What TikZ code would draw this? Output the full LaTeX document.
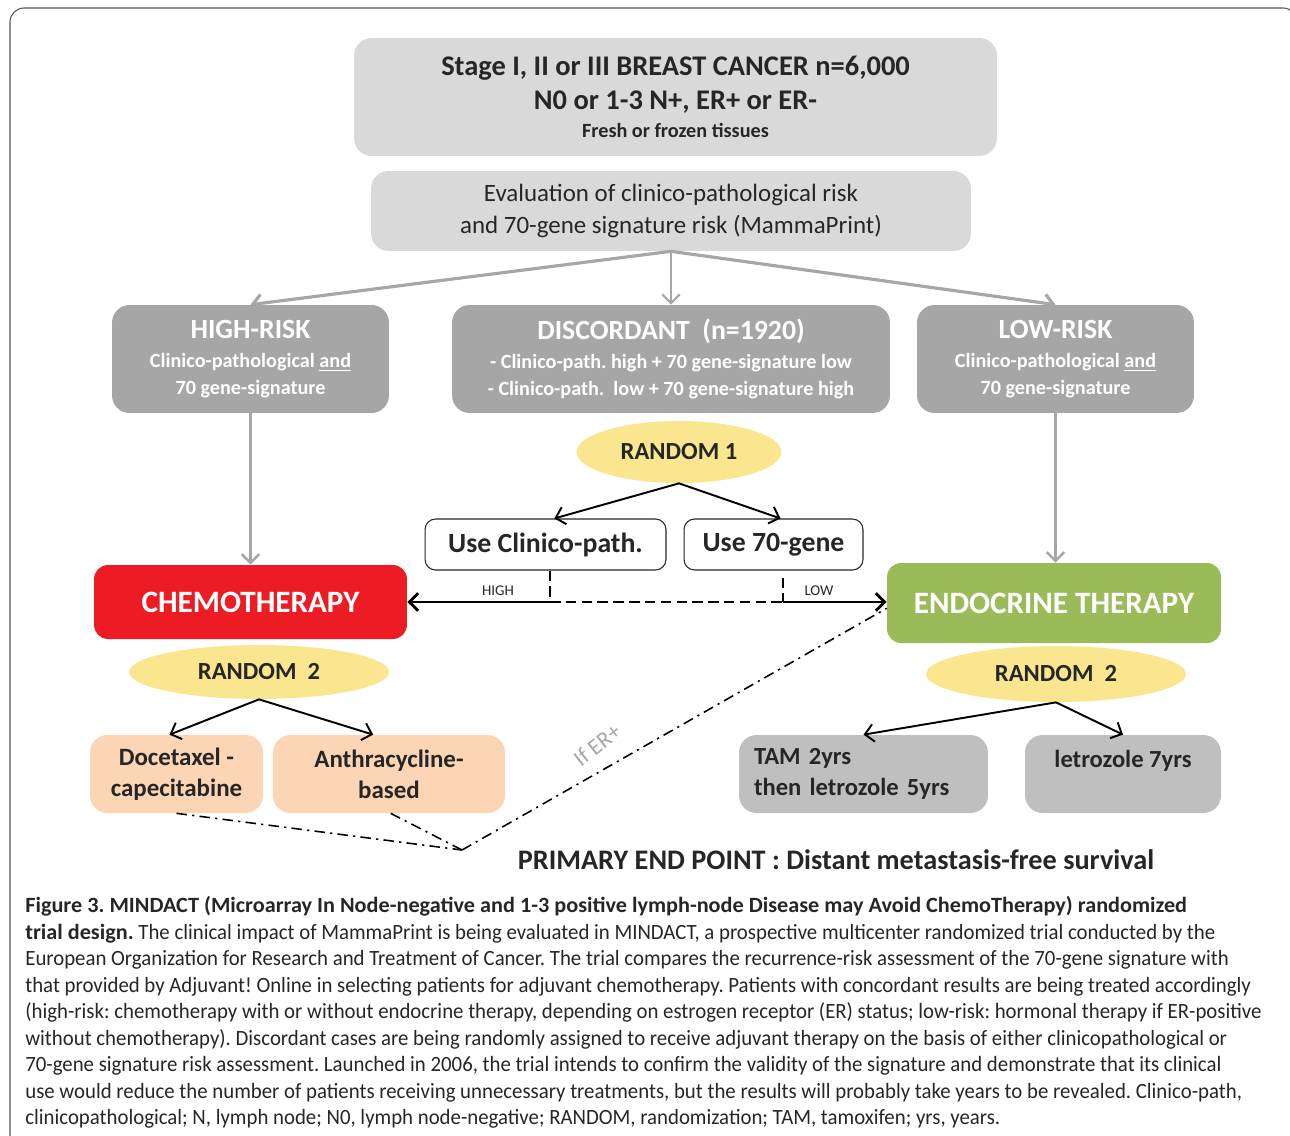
\documentclass[tikz,border=0pt]{standalone}
\usepackage{fontspec}
\setmainfont{Carlito}
\newfontfamily\capfont[FakeStretch=0.955,BoldFeatures={FakeStretch=1.02}]{Carlito}
\usetikzlibrary{arrows.meta,shapes.geometric}
\definecolor{ink}{HTML}{262626}
\definecolor{framegray}{HTML}{555555}
\definecolor{boxlight}{HTML}{D9D9D9}
\definecolor{boxmid}{HTML}{A6A6A6}
\definecolor{boxsoft}{HTML}{BFBFBF}
\definecolor{randfill}{HTML}{FAE68F}
\definecolor{chemored}{HTML}{ED1C24}
\definecolor{endogreen}{HTML}{9BBB59}
\definecolor{peach}{HTML}{FCD5B4}
\frenchspacing
\begin{document}
\begin{tikzpicture}[x=0.02cm,y=-0.02cm,>={Straight Barb[length=5pt,width=10pt]}]
        \useasboundingbox (0,0) rectangle (1290,1135);
        \draw[framegray,line width=0.6pt,rounded corners=8pt] (10,1200) -- (10,8) -- (1297,8) -- (1297,1200);

        \begin{scope}[every node/.style={rounded corners=10pt,align=center,inner sep=0pt}]
          \node[fill=boxlight,text=ink,minimum width=12.86cm,minimum height=2.36cm,font=\fontsize{16.2}{19.3}\selectfont\bfseries] (stage) at (675.5,97)
            {Stage I, II or III BREAST CANCER n=6,000\\
             N0 or 1-3 N+, ER+ or ER-\\[-3pt] {\fontsize{11.5}{17}\selectfont Fresh or frozen tissues}};
          \node[fill=boxlight,text=ink,minimum width=12cm,minimum height=1.6cm,font=\fontsize{14.2}{18.3}\selectfont] (eval) at (671,211)
            {Evaluation of clinico-pathological risk\\ and 70-gene signature risk (MammaPrint)};
          \node[fill=boxmid,text=white,minimum width=5.54cm,minimum height=2.16cm,font=\fontsize{11.5}{15.3}\selectfont\bfseries] (high) at (250.5,359)
            {{\fontsize{15.8}{17}\selectfont HIGH-RISK}\\[1pt] Clinico-pathological \underline{and}\\ 70 gene-signature};
          \node[fill=boxmid,text=white,minimum width=8.76cm,minimum height=2.16cm,font=\fontsize{11.5}{15.3}\selectfont\bfseries] (disc) at (671,359)
            {{\fontsize{15.8}{17}\selectfont DISCORDANT~~(n=1920)}\\[1pt] - Clinico-path. high + 70 gene-signature low\\ - Clinico-path.~~low + 70 gene-signature high};
          \node[fill=boxmid,text=white,minimum width=5.54cm,minimum height=2.16cm,font=\fontsize{11.5}{15.3}\selectfont\bfseries] (low) at (1055.5,359)
            {{\fontsize{15.8}{17}\selectfont LOW-RISK}\\[1pt] Clinico-pathological \underline{and}\\ 70 gene-signature};
          \node[draw=ink,line width=0.6pt,text=ink,rounded corners=6pt,minimum width=4.82cm,minimum height=1.02cm,font=\fontsize{15.8}{17}\selectfont\bfseries] (useclin) at (545.5,544.5) {Use Clinico-path.};
          \node[draw=ink,line width=0.6pt,text=ink,rounded corners=6pt,minimum width=3.58cm,minimum height=1.02cm,font=\fontsize{15.8}{17}\selectfont\bfseries] (usegene) at (773.5,544.5) {Use 70-gene};
          \node[fill=chemored,text=white,rounded corners=8pt,minimum width=6.26cm,minimum height=1.48cm,font=\fontsize{17.7}{19}\selectfont\bfseries] (chemo) at (250.5,602) {CHEMOTHERAPY};
          \node[fill=endogreen,text=white,rounded corners=8pt,minimum width=6.68cm,minimum height=1.6cm,font=\fontsize{17.7}{19}\selectfont\bfseries] (endo) at (1054,603) {ENDOCRINE THERAPY};
          \node[fill=peach,text=ink,minimum width=3.46cm,minimum height=1.56cm,font=\fontsize{14.2}{17.5}\selectfont\bfseries] (docet) at (176.5,774) {Docetaxel -\\ capecitabine};
          \node[fill=peach,text=ink,minimum width=4.64cm,minimum height=1.56cm,font=\fontsize{14.2}{17.5}\selectfont\bfseries] (anthra) at (389,774) {Anthracycline-\\ based};
          \node[fill=boxsoft,text=ink,minimum width=4.98cm,minimum height=1.56cm,text width=4.38cm,align=left,font=\fontsize{14}{17.5}\selectfont\bfseries] (tam) at (863.5,774) {TAM 2yrs\\ then letrozole 5yrs};
          \node[fill=boxsoft,text=ink,minimum width=3.92cm,minimum height=1.56cm,font=\fontsize{14}{17.5}\selectfont\bfseries] (letro) at (1123,774) {letrozole 7yrs\\ ~};
        \end{scope}

        \begin{scope}[every node/.style={ellipse,fill=randfill,text=ink,inner sep=0pt,font=\fontsize{14}{16}\selectfont\bfseries}]
          \node[minimum width=4.1cm,minimum height=1.24cm] (rand1) at (679,452) {RANDOM 1};
          \node[minimum width=5.2cm,minimum height=1.08cm] (randL) at (259,672) {RANDOM~~2};
          \node[minimum width=5.2cm,minimum height=1.12cm] (randR) at (1056,674) {RANDOM~~2};
        \end{scope}

        \begin{scope}[boxmid,->]
          \draw[line width=1.8pt] (eval.south) -- (high.north);
          \draw[line width=1.2pt] (eval.south) -- (disc.north);
          \draw[line width=1.8pt] (eval.south) -- (low.north);
          \draw[line width=1.4pt] (high.south) -- (chemo.north);
          \draw[line width=1.4pt] (low.south) -- (low.south |- endo.north);
        \end{scope}

        \coordinate (hi) at (550,602);
        \coordinate (lo) at (783,602);
        \coordinate (endpt) at (462,850);
        \begin{scope}[black,line width=1.1pt,->]
          \draw (rand1.south) -- ([xshift=5pt]useclin.north);
          \draw (rand1.south) -- ([xshift=4pt]usegene.north);
          \draw (randL.south) -- ([xshift=-4pt]docet.north);
          \draw (randL.south) -- ([xshift=-9pt]anthra.north);
          \draw (randR.south) -- (tam.north);
          \draw (randR.south) -- (letro.north);
        \end{scope}

        \begin{scope}[black,line width=1.6pt]
          \draw[->] (hi) -- (chemo.east |- hi);
          \draw[->] (lo) -- (endo.west |- lo);
          \draw[dashed,dash pattern=on 6pt off 3pt] (hi) -- (lo);
          \draw[dashed,dash pattern=on 6pt off 3pt] (hi |- useclin.south) -- (hi);
          \draw[dashed,dash pattern=on 6pt off 3pt] ([yshift=-4pt]lo |- usegene.south) -- (lo);
        \end{scope}
        \node[text=ink,font=\fontsize{8.5}{10}\selectfont] (highlbl) at (498,591) {HIGH};
        \node[text=ink,font=\fontsize{8.5}{10}\selectfont] (lowlbl) at (819,591) {LOW};

        \begin{scope}[black,line width=0.9pt,dash pattern=on 6pt off 3pt on 1.2pt off 3pt]
          \draw (docet.south) -- (endpt);
          \draw ([xshift=1pt]anthra.south) -- (endpt);
          \draw (endpt) -- ([yshift=-3pt]endo.west);
        \end{scope}
        \node[rotate=38,text=boxmid,font=\fontsize{13}{15}\selectfont] (erlbl) at (597,745) {If ER+};

        \node[text=ink,font=\fontsize{16.1}{18}\selectfont\bfseries] (endpoint) at (836,860) {PRIMARY END POINT : Distant metastasis-free survival};

        \node[anchor=north west,align=left,inner sep=0pt,text=ink,font=\capfont\fontsize{12.4}{15.1}\selectfont] (caption) at (25,896)
          {\textbf{Figure 3. MINDACT (Microarray In Node-negative and 1-3 positive lymph-node Disease may Avoid ChemoTherapy) randomized}\\
           \textbf{trial design.} The clinical impact of MammaPrint is being evaluated in MINDACT, a prospective multicenter randomized trial conducted by the\\
           European Organization for Research and Treatment of Cancer. The trial compares the recurrence-risk assessment of the 70-gene signature with\\
           that provided by Adjuvant! Online in selecting patients for adjuvant chemotherapy. Patients with concordant results are being treated accordingly\\
           (high-risk: chemotherapy with or without endocrine therapy, depending on estrogen receptor (ER) status; low-risk: hormonal therapy if ER-positive\\
           without chemotherapy). Discordant cases are being randomly assigned to receive adjuvant therapy on the basis of either clinicopathological or\\
           70-gene signature risk assessment. Launched in 2006, the trial intends to confirm the validity of the signature and demonstrate that its clinical\\
           use would reduce the number of patients receiving unnecessary treatments, but the results will probably take years to be revealed. Clinico-path,\\
           clinicopathological; N, lymph node; N0, lymph node-negative; RANDOM, randomization; TAM, tamoxifen; yrs, years.};

      \end{tikzpicture}
\end{document}
